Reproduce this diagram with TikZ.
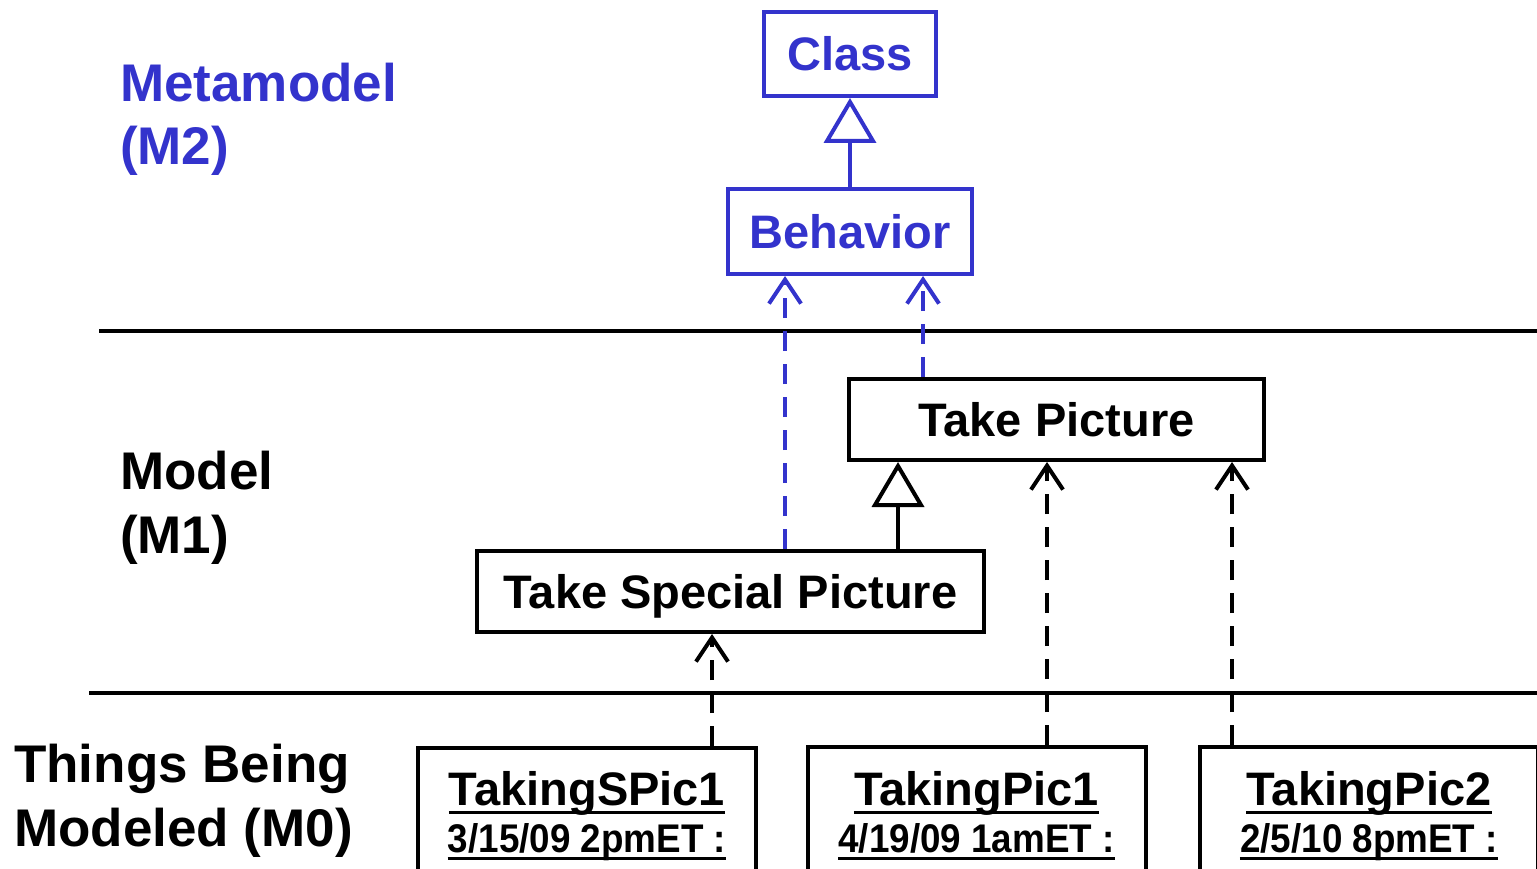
\documentclass[tikz,border=0pt]{standalone}
\usepackage{fontspec}
\setmainfont{Liberation Sans}
\usetikzlibrary{arrows.meta,calc}
\definecolor{mblue}{RGB}{51,51,204}
\begin{document}
\begin{tikzpicture}[x=1pt,y=-1pt,
  box/.style={draw, line width=4pt, inner sep=0pt, text height=34pt, text depth=0pt,
    font=\bfseries\fontsize{47}{50}\selectfont},
  bluebox/.style={box, draw=mblue, text=mblue},
  ibox/.style={draw, line width=4pt, inner sep=0pt, anchor=north west, minimum width=338pt, minimum height=160pt},
  lab/.style={anchor=base west, inner sep=0pt, font=\bfseries\fontsize{53}{60}\selectfont},
  inst/.style={anchor=base, inner sep=0pt, font=\bfseries\fontsize{47}{50}\selectfont},
  date/.style={anchor=base, inner sep=0pt, font=\bfseries\fontsize{40}{44}\selectfont},
  uline/.style={line width=3pt},
  dep/.style={line width=4pt, dash pattern=on 20pt off 13pt,
    -{Straight Barb[length=24pt,width=32pt]}},
  gen/.style={line width=4pt, -{Triangle[open,length=45pt,width=52pt,fill=white]}},
  sep/.style={line width=4.5pt}
]
\useasboundingbox (0,0) rectangle (1537,869);

% separators
\draw[sep] (99,331) -- (1537,331);
\draw[sep] (89,693) -- (1537,693);

% level labels
\node[lab, text=mblue] (mm) at (120,102) {Metamodel};
\node[lab, text=mblue] (m2) at (120,165) {(M2)};
\node[lab] (mo) at (120,489) {Model};
\node[lab] (m1) at (120,553) {(M1)};
\node[lab] (tb) at (14,782) {Things Being};
\node[lab] (m0) at (14,846) {Modeled (M0)};

% M2
\node[bluebox, minimum width=172pt, minimum height=84pt] (cls) at (850,54) {Class};
\node[bluebox, minimum width=244pt, minimum height=85pt] (beh) at (850,231.5) {Behavior};

% M1
\node[box, minimum width=415pt, minimum height=81pt] (tp) at (1056.5,419.5) {Take Picture};
\node[box, minimum width=507pt, minimum height=81pt] (tsp) at (730.5,591.5) {Take Special Picture};

% M0
\node[ibox] (s1) at (416,746) {};
\node[ibox] (p1) at (806,745) {};
\node[ibox] (p2) at (1198,745) {};

\node[inst] (s1a) at (587,805) {TakingSPic1};
\node[date] (s1b) at (587,852) {\scalebox{0.92}[1]{3/15/09 2pmET :}};
\node[inst] (p1a) at (976.5,805) {TakingPic1};
\node[date] (p1b) at (976.5,852) {\scalebox{0.92}[1]{4/19/09 1amET :}};
\node[inst] (p2a) at (1369,805) {TakingPic2};
\node[date] (p2b) at (1369,852) {\scalebox{0.92}[1]{2/5/10 8pmET :}};

\foreach \n in {s1a,p1a,p2a}{
  \draw[uline] ([yshift=-7pt]\n.base west) -- ([yshift=-7pt]\n.base east);
}
\foreach \n in {s1b,p1b,p2b}{
  \draw[uline] ([yshift=-6pt]\n.base west) -- ([yshift=-6pt]\n.base east);
}

% generalizations
\draw[gen, mblue] (beh.north) -- (cls.south);
\draw[gen] ([xshift=167.5pt]tsp.north) -- ([xshift=-158.5pt]tp.south);

% dependencies (instance-of)
\draw[dep, mblue] ([xshift=54.5pt]tsp.north) -- ([xshift=-65pt]beh.south);
\draw[dep, mblue] ([xshift=-133.5pt]tp.north) -- ([xshift=73pt]beh.south);
\draw[dep] ([xshift=125pt]s1.north) -- ([xshift=-18.5pt]tsp.south);
\draw[dep] ([xshift=70pt]p1.north) -- ([xshift=-9.5pt]tp.south);
\draw[dep] ([xshift=-137pt]p2.north) -- ([xshift=175.5pt]tp.south);
\end{tikzpicture}
\end{document}
